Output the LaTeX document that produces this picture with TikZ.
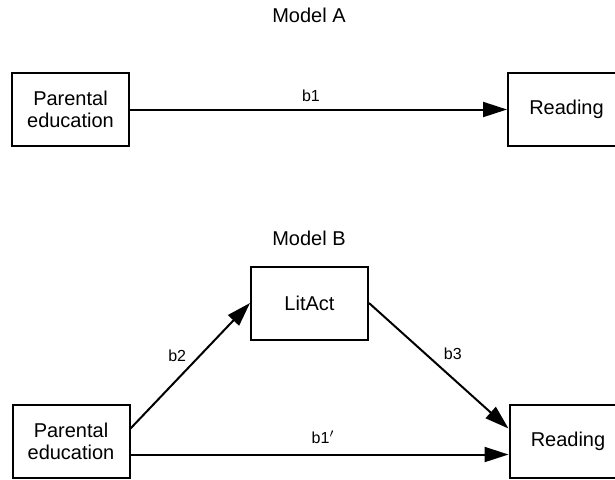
\documentclass[tikz,border=0pt]{standalone}
\usepackage{fontspec}
\setmainfont{Liberation Sans}
\usetikzlibrary{arrows.meta}

\begin{document}
\begin{tikzpicture}[
		x=0.5pt, y=-0.5pt,
		every node/.style={font=\fontsize{10}{11}\selectfont},
		box/.style={draw=black, line width=1pt, minimum width=58.5pt, minimum height=36.5pt, align=center, inner sep=2pt},
		arrow/.style={-{Triangle[length=12pt, width=7.5pt]}, line width=1pt},
		coef/.style={font=\fontsize{8}{9}\selectfont, inner sep=1pt}
	]
		\useasboundingbox (0,0) rectangle (615,479);
		\clip (0,0) rectangle (615,479);

		% Model A
		\node (titleA) at (309,15) {Model A};
		\node[box] (parA) at (70.5,109.5) {Parental\\education};
		\node[box] (readA) at (566.5,109.5) {Reading};

		\draw[arrow] (parA) -- node[coef, pos=0.48, yshift=7pt] {b1} (readA);

		% Model B
		\node (titleB) at (309,238) {Model B};
		\node[box] (litact) at (309.5,303) {LitAct};
		\node[box] (parB) at (71,441.5) {Parental\\education};
		\node[box] (readB) at (568,441.5) {Reading};

		\draw[arrow] ([yshift=6.5pt]parB.east) -- node[coef, pos=0.5, xshift=-6.5pt, yshift=5pt] {b2} (litact.west);
		\draw[arrow] (litact.east) -- node[coef, pos=0.5, xshift=7pt, yshift=6pt] {b3} ([yshift=6.5pt]readB.west);
		\draw[arrow] ([yshift=-6.5pt]parB.east) -- node[coef, pos=0.51, yshift=8.5pt] {b1$^{\prime}$} ([yshift=-6.5pt]readB.west);
	\end{tikzpicture}
\end{document}
